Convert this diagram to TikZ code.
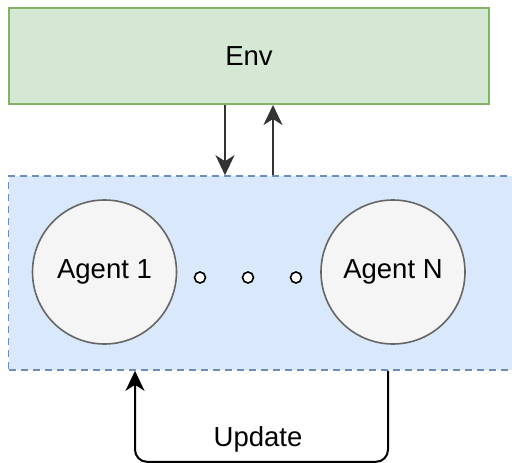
\documentclass[tikz,border=0pt]{standalone}
\usepackage{fontspec}
\setmainfont{Liberation Sans}
\usetikzlibrary{arrows.meta,calc}
\definecolor{envfill}{HTML}{D5E8D4}
\definecolor{envline}{HTML}{82B366}
\definecolor{teamfill}{HTML}{DAE8FC}
\definecolor{teamline}{HTML}{6C8EBF}
\definecolor{agentfill}{HTML}{F5F5F5}
\definecolor{agentline}{HTML}{666666}
\begin{document}
\begin{tikzpicture}[x=1pt,y=-1pt,
  every node/.style={font=\fontsize{27.5}{32}\selectfont, inner sep=0pt},
  envbox/.style={draw=envline, fill=envfill, line width=2pt, minimum width=480pt, minimum height=96pt},
  teambox/.style={draw=teamline, fill=teamfill, line width=1.6pt, dash pattern=on 7pt off 5pt, minimum width=524pt, minimum height=194pt},
  agent/.style={circle, draw=agentline, fill=agentfill, line width=1.6pt, minimum size=144pt},
  dot/.style={circle, draw=black, fill=white, line width=1.6pt, minimum size=11pt},
  flow/.style={draw=black!80, line width=2pt, -{Stealth[length=20pt,width=19pt,inset=6pt]}}
]
\clip (0,0) rectangle (512,463);
\useasboundingbox (0,0) rectangle (512,463);

% environment and agent team
\node[envbox] (env) at (249,56) {Env};
\node[teambox] (team) at (270.5,273) {};
\node[agent] (a1) at (104.5,272) {Agent 1};
\node[agent] (aN) at (393,272) {Agent N};
\node[dot] (d1) at (200,277.5) {};
\node[dot] (d2) at (248,277.5) {};
\node[dot] (d3) at (296,277.5) {};

% observation / action exchange
\draw[flow] ([xshift=-24pt]env.south) -- ([xshift=-24pt]env.south |- team.north);
\draw[flow] ([xshift=24pt]env.south |- team.north) -- ([xshift=24pt]env.south);

% update loop below the team
\coordinate (upstart) at ([xshift=-5pt]aN.south |- team.south);
\coordinate (upend) at ([xshift=30.5pt]a1.south |- team.south);
\draw[flow, rounded corners=12pt, draw=black]
  (upstart) -- ++(0,91) -| (upend);
\node (upd) at (258,439) {Update};
\end{tikzpicture}
\end{document}
